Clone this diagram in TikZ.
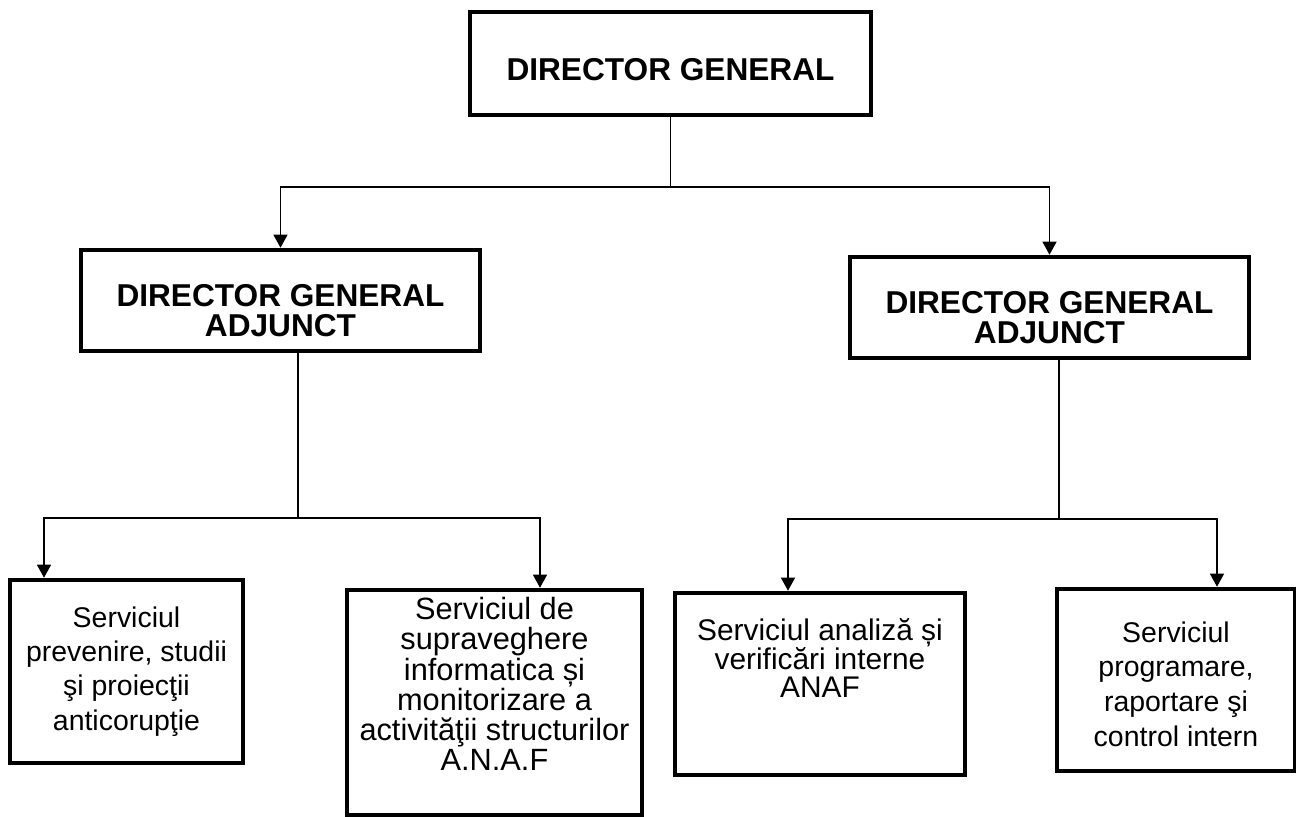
\documentclass[tikz,border=0pt]{standalone}
\usepackage{fontspec}
\setmainfont{Liberation Sans}
\usetikzlibrary{arrows.meta}

\begin{document}
\begin{tikzpicture}
    [x=0.02cm,y=-0.02cm,
     boxstyle/.style={draw=black,line width=2.6pt,rectangle,inner sep=0pt},
     headstyle/.style={align=center,font=\fontsize{18}{17.5}\selectfont\bfseries},
     textstyle/.style={align=center,font=\fontsize{16.2}{19.5}\selectfont},
     linestyle/.style={draw=black,line width=0.9pt},
     arrowstyle/.style={linestyle,-{Triangle[length=7.5pt,width=8pt]}}]

    \useasboundingbox (0,0) rectangle (1296,816);

    % boxes
    \node[boxstyle,minimum width=8.02cm,minimum height=2.06cm] (dg) at (670.5,63.5) {};
    \node[boxstyle,minimum width=7.98cm,minimum height=2.02cm] (dgl) at (280.5,300.5) {};
    \node[boxstyle,minimum width=7.98cm,minimum height=2.02cm] (dgr) at (1049.5,307.5) {};
    \node[boxstyle,minimum width=4.66cm,minimum height=3.66cm] (b1) at (126.5,671.5) {};
    \node[boxstyle,minimum width=5.9cm,minimum height=4.5cm] (b2) at (494.5,702.5) {};
    \node[boxstyle,minimum width=5.8cm,minimum height=3.64cm] (b3) at (820,684) {};
    \node[boxstyle,minimum width=4.76cm,minimum height=3.64cm] (b4) at (1176,680) {};

    % texts
    \node[headstyle] (dgt) at ([yshift=-0.13cm]dg.center) {DIRECTOR GENERAL};
    \node[headstyle] (dglt) at ([yshift=-0.2cm]dgl.center) {DIRECTOR GENERAL\\ADJUNCT};
    \node[headstyle] (dgrt) at ([yshift=-0.2cm]dgr.center) {DIRECTOR GENERAL\\ADJUNCT};
    \node[textstyle] (b1t) at (b1.center) {Serviciul\\prevenire, studii\\şi proiecţii\\anticorupţie};
    \node[textstyle,font=\fontsize{17.5}{17.2}\selectfont] (b2t) at ([yshift=0.37cm]b2.center)
        {Serviciul de\\supraveghere\\informatica și\\monitorizare a\\activităţii structurilor\\A.N.A.F};
    \node[textstyle,font=\fontsize{17}{16.4}\selectfont] (b3t) at ([yshift=0.52cm]b3.center)
        {Serviciul analiză și\\verificări interne\\ANAF};
    \node[textstyle,font=\fontsize{16.2}{19.8}\selectfont] (b4t) at ([yshift=-0.08cm]b4.center)
        {Serviciul\\programare,\\raportare şi\\control intern};

    % links
    \coordinate (j0) at (670.5,187);
    \draw[linestyle] (dg) -- (j0);
    \draw[arrowstyle] (j0) -| (dgl.north);
    \draw[arrowstyle] (j0) -| (dgr.north);

    \coordinate (jl) at (298,518);
    \coordinate (el1) at (44,518);
    \coordinate (el2) at (540,518);
    \draw[linestyle] (dgl.south -| jl) -- (jl);
    \draw[arrowstyle] (jl) -- (el1) -- (el1 |- b1.north);
    \draw[arrowstyle] (jl) -- (el2) -- (el2 |- b2.north);

    \coordinate (jr) at (1059,519);
    \coordinate (er1) at (788,519);
    \coordinate (er2) at (1217,519);
    \draw[linestyle] (dgr.south -| jr) -- (jr);
    \draw[arrowstyle] (jr) -- (er1) -- (er1 |- b3.north);
    \draw[arrowstyle] (jr) -- (er2) -- (er2 |- b4.north);
\end{tikzpicture}
\end{document}
